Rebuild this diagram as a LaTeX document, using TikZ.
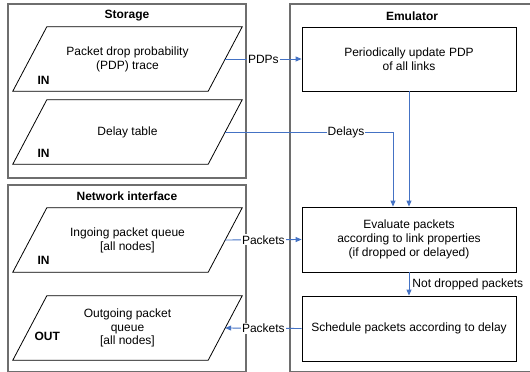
\documentclass[tikz,border=0pt]{standalone}
\usepackage{fontspec}
\setmainfont{Liberation Sans}
\usetikzlibrary{arrows.meta, positioning, calc}
\definecolor{emblue}{HTML}{4472C4}
\definecolor{emframe}{HTML}{6E6E6E}

\begin{document}
\begin{tikzpicture}[x=1pt, y=1pt, font=\fontsize{12}{13.8}\selectfont,
    frame/.style={draw=emframe, line width=1.2pt},
    title/.style={font=\fontsize{12}{13.8}\selectfont\bfseries},
    io/.style={rectangle, minimum width=195pt, minimum height=64pt, align=center},
    proc/.style={rectangle, draw, line width=0.8pt, minimum width=214pt,
                 minimum height=64pt, align=center},
    tag/.style={font=\fontsize{12}{13.8}\selectfont\bfseries, inner sep=0pt},
    flow/.style={draw=emblue, line width=0.9pt, -{Triangle[length=6pt, width=5pt]}},
    lbl/.style={fill=white, inner sep=1pt}]
  \useasboundingbox (0,0) rectangle (530,372);
  \clip (0,0) rectangle (530,372);
  % storage
  \draw[frame] (8,368) rectangle (246,194);
  \node[title] (stor) at (127,356) {Storage};
  \node[io] (pdp) at (127.5,313) {Packet drop probability\\(PDP) trace};
  \node[io] (delay) at (127.5,240) {Delay table};
  \node[tag, above right=6pt and 7.5pt of pdp.south west] (pdpin) {IN};
  \node[tag, above right=6pt and 7.5pt of delay.south west] (delayin) {IN};
  % network interface
  \draw[frame] (8,187) rectangle (246,0.8);
  \node[title] (net) at (127,176) {Network interface};
  \node[io] (ingo) at (127.5,132) {Ingoing packet queue\\{[all nodes]}};
  \node[io] (outgo) at (127.5,44) {Outgoing packet\\queue\\{[all nodes]}};
  \node[tag, above right=7pt and 7.5pt of ingo.south west] (ingoin) {IN};
  \node[tag, above right=19pt and 4.5pt of outgo.south west] (outgoout) {OUT};
  % slanted outlines of the data stores
  \foreach \n in {pdp,delay,ingo,outgo}
    \draw[line width=0.8pt] ($(\n.south west)+(-17,0)$) -- ($(\n.south east)+(-17,0)$)
      -- ($(\n.north east)+(17,0)$) -- ($(\n.north west)+(17,0)$) -- cycle;
  % emulator
  \draw[frame] (290,368) rectangle (540,0.8);
  \node[title] (emu) at (412,356) {Emulator};
  \node[proc] (upd) at (409,313) {Periodically update PDP\\of all links};
  \node[proc, minimum height=65pt] (eval) at (409,132.5)
    {Evaluate packets\\according to link properties\\(if dropped or delayed)};
  \node[proc, minimum height=65pt] (sched) at (409,43.5)
    {Schedule packets according to delay};
  \coordinate (dly) at ($(eval.north)+(-16,0)$);
  % connectors
  \draw[flow] (pdp.east) -- node[lbl]{PDPs} (upd.west);
  \draw[flow] (delay.east) -| node[lbl, pos=0.36]{Delays} (dly);
  \draw[flow] (upd.south) -- (eval.north);
  \draw[flow] (ingo.east) -- node[lbl]{Packets} (eval.west);
  \draw[flow] (eval.south) -- node[right, inner sep=3pt]{Not dropped packets} (sched.north);
  \draw[flow] (sched.west) -- node[lbl]{Packets} (outgo.east);
\end{tikzpicture}
\end{document}
